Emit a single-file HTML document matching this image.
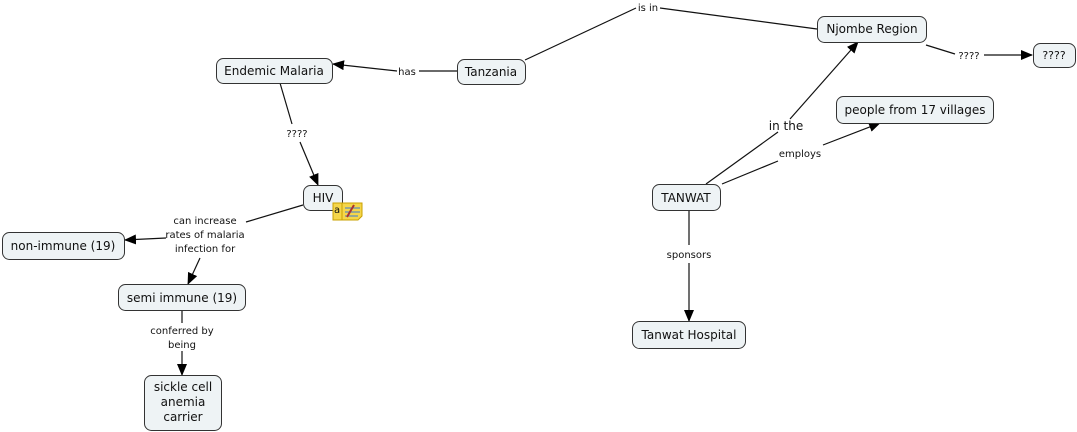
<!DOCTYPE html>
<html><head><style>
body{margin:0;background:#fff;width:1077px;height:432px;overflow:hidden}
svg{display:block}
text{font-family:"DejaVu Sans","Liberation Sans",sans-serif;fill:#111}
.n{font-size:12px}
.l{font-size:10px}
rect{fill:#eef3f5;stroke:#333;stroke-width:1}
line{stroke:#111;stroke-width:1.2}
</style></head><body>
<svg width="1077" height="432" viewBox="0 0 1077 432">
<defs><marker id="a" markerWidth="12" markerHeight="10" refX="11" refY="5" orient="auto" markerUnits="userSpaceOnUse"><path d="M0,0 L12,5 L0,10z" fill="#000"/></marker></defs>
<!-- connectors -->
<line x1="525" y1="60" x2="636" y2="8"/>
<line x1="660" y1="8" x2="817" y2="29"/>
<line x1="457" y1="71" x2="419" y2="71"/>
<line x1="397" y1="71" x2="333" y2="64" marker-end="url(#a)"/>
<line x1="280" y1="83" x2="292" y2="124"/>
<line x1="300" y1="142" x2="318" y2="185" marker-end="url(#a)"/>
<line x1="303" y1="205" x2="246" y2="222"/>
<line x1="166" y1="238" x2="125" y2="240" marker-end="url(#a)"/>
<line x1="200" y1="258" x2="188" y2="284" marker-end="url(#a)"/>
<line x1="182" y1="310" x2="182" y2="323"/>
<line x1="182" y1="351" x2="182" y2="375" marker-end="url(#a)"/>
<line x1="926" y1="45" x2="955" y2="54"/>
<line x1="984" y1="55" x2="1032" y2="55" marker-end="url(#a)"/>
<line x1="706" y1="184" x2="778" y2="132"/>
<line x1="790" y1="119" x2="858" y2="42" marker-end="url(#a)"/>
<line x1="722" y1="184" x2="778" y2="161"/>
<line x1="823" y1="145" x2="880" y2="123" marker-end="url(#a)"/>
<line x1="689" y1="210" x2="689" y2="245"/>
<line x1="689" y1="263" x2="689" y2="321" marker-end="url(#a)"/>
<!-- labels -->
<text class="l" x="648" y="11" text-anchor="middle">is in</text>
<text class="l" x="407" y="75" text-anchor="middle">has</text>
<text class="l" x="297" y="137" text-anchor="middle">????</text>
<text class="l" x="205" y="224" text-anchor="middle">can increase</text>
<text class="l" x="205" y="238" text-anchor="middle">rates of malaria</text>
<text class="l" x="205" y="252" text-anchor="middle">infection for</text>
<text class="l" x="182" y="334" text-anchor="middle">conferred by</text>
<text class="l" x="182" y="348" text-anchor="middle">being</text>
<text class="l" x="969" y="59" text-anchor="middle">????</text>
<text class="n" x="786" y="130" text-anchor="middle">in the</text>
<text class="l" x="800" y="157" text-anchor="middle">employs</text>
<text class="l" x="689" y="258" text-anchor="middle">sponsors</text>
<!-- nodes -->
<rect x="216.5" y="58.5" width="116" height="25" rx="7"/>
<text class="n" x="274" y="75" text-anchor="middle">Endemic Malaria</text>
<rect x="457.5" y="59.5" width="68" height="25" rx="7"/>
<text class="n" x="491" y="76" text-anchor="middle">Tanzania</text>
<rect x="817.5" y="16.5" width="109" height="26" rx="7"/>
<text class="n" x="872" y="33" text-anchor="middle">Njombe Region</text>
<rect x="1033.5" y="43.5" width="42" height="24" rx="7"/>
<text class="l" x="1054" y="59" text-anchor="middle" style="font-size:11px">????</text>
<rect x="836.5" y="96.5" width="157" height="27" rx="7"/>
<text class="n" x="915" y="114" text-anchor="middle">people from 17 villages</text>
<rect x="303.5" y="185.5" width="39" height="25" rx="7"/>
<text class="n" x="323" y="202" text-anchor="middle">HIV</text>
<rect x="2.5" y="232.5" width="122" height="27" rx="7"/>
<text class="n" x="63" y="250" text-anchor="middle">non-immune (19)</text>
<rect x="118.5" y="284.5" width="127" height="26" rx="7"/>
<text class="n" x="182" y="302" text-anchor="middle">semi immune (19)</text>
<rect x="144.5" y="375.5" width="77" height="55" rx="7"/>
<text class="n" x="183" y="391" text-anchor="middle">sickle cell</text>
<text class="n" x="183" y="406" text-anchor="middle">anemia</text>
<text class="n" x="183" y="421" text-anchor="middle">carrier</text>
<rect x="652.5" y="184.5" width="68" height="26" rx="7"/>
<text class="n" x="686" y="202" text-anchor="middle">TANWAT</text>
<rect x="632.5" y="321.5" width="113" height="27" rx="7"/>
<text class="n" x="689" y="339" text-anchor="middle">Tanwat Hospital</text>
<!-- note icon -->
<g>
<path d="M333,203 h29 v13 l-4,4 h-25z" fill="#f5d64a" stroke="#c9a000"/>
<line x1="342" y1="203" x2="342" y2="220" style="stroke:#c9a000;stroke-width:1"/>
<text x="334" y="213" style="font-size:10px">a</text>
<line x1="345" y1="208" x2="360" y2="208" style="stroke:#3a7bd5;stroke-width:1"/>
<line x1="345" y1="212" x2="360" y2="212" style="stroke:#3a7bd5;stroke-width:1"/>
<line x1="345" y1="216" x2="358" y2="216" style="stroke:#3a7bd5;stroke-width:1"/>
<line x1="347" y1="217" x2="354" y2="205" style="stroke:#a33;stroke-width:2"/>
</g>
</svg>
</body></html>
